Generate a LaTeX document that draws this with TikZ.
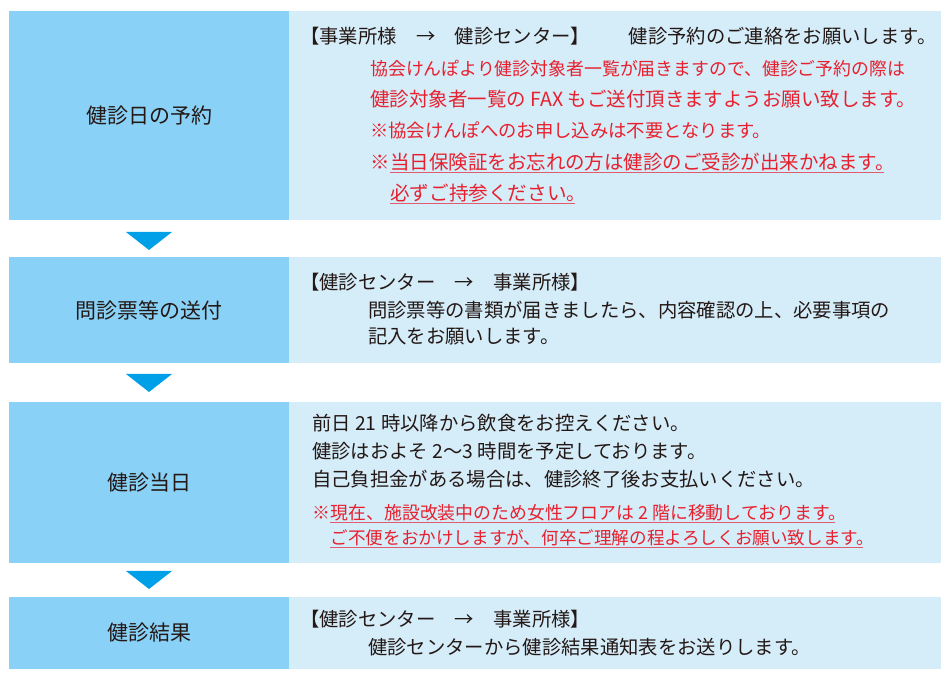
\documentclass[tikz,border=0pt]{standalone}
\usepackage{fontspec}
\newfontfamily\jpfont{Noto Sans CJK JP}
\usetikzlibrary{calc}
\definecolor{stepblue}{HTML}{89D1F6}
\definecolor{notebg}{HTML}{D5ECF9}
\definecolor{arrowblue}{HTML}{00A0E9}
\definecolor{notered}{HTML}{E8202E}
\definecolor{ulred}{HTML}{E05A70}
\definecolor{inkblack}{HTML}{231815}
\tikzstyle{stepleft}=[fill=stepblue,inner sep=0pt,outer sep=0pt,minimum width=210pt,font=\jpfont\fontsize{15.75}{18}\selectfont,text=inkblack]
\tikzstyle{stepright}=[fill=notebg,inner sep=0pt,outer sep=0pt,minimum width=489pt]
\tikzstyle{blacktxt}=[anchor=base west,inner sep=0pt,font=\jpfont\fontsize{14.5}{16}\selectfont,text=inkblack]
\tikzstyle{redtxt}[13.5]=[anchor=base west,inner sep=0pt,font=\jpfont\fontsize{#1}{16}\selectfont,text=notered]
\tikzstyle{underln}=[draw=ulred,line width=0.9pt,shorten >=8.3pt]
\tikzstyle{downarrow}=[fill=arrowblue]
\newcommand{\drawstep}[4]{

\pgfmathsetmacro{\boxh}{(#3-#2)*0.75}
\pgfmathsetmacro{\boxc}{(#2+#3)/2}
\node[stepleft,minimum height=\boxh pt] (#1L) at (149,\boxc) {#4};
\node[stepright,minimum height=\boxh pt] (#1R) at (615,\boxc) {};

}
\newcommand{\ulnote}[1]{
\draw[underln] ([yshift=-2pt]#1.base west) -- ([yshift=-2pt]#1.base east);
}

\begin{document}
\begin{tikzpicture}[x=0.75pt,y=-0.75pt]
	\useasboundingbox (0,0) rectangle (950,680);
	\drawstep{one}{11}{220}{健診日の予約}
	\drawstep{two}{257}{363}{問診票等の送付}
	\drawstep{three}{402}{563}{健診当日}
	\drawstep{four}{597}{669}{健診結果}
	% arrows between the steps
	\foreach \ty in {232,374,571} {
	  \fill[downarrow] (126,\ty) -- (172,\ty) -- (149,{\ty+18}) -- cycle;
	}
	% step 1
	\node[blacktxt] (r1head) at (300,44) {【事業所様　→　健診センター】　　健診予約のご連絡をお願いします。};
	\node[redtxt=13.4] (r1a) at (370,76) {協会けんぽより健診対象者一覧が届きますので、健診ご予約の際は};
	\node[redtxt=14.6] (r1b) at (370,107) {健診対象者一覧の FAX もご送付頂きますようお願い致します。};
	\node[redtxt=13.75] (r1c) at (370,138) {※協会けんぽへのお申し込みは不要となります。};
	\node[redtxt=14.6] (r1mark) at (370,170) {※};
	\node[redtxt=14.6] (r1d) at (r1mark.base east) {当日保険証をお忘れの方は健診のご受診が出来かねます。};
	\node[redtxt=14.7] (r1e) at ($(r1d.base west)+(0,31)$) {必ずご持参ください。};
	\ulnote{r1d}
	\ulnote{r1e}
	% step 2
	\node[blacktxt] (r2head) at (300,290) {【健診センター　→　事業所様】};
	\node[blacktxt] (r2a) at (368,318) {問診票等の書類が届きましたら、内容確認の上、必要事項の};
	\node[blacktxt] (r2b) at (368,344) {記入をお願いします。};
	% step 3
	\node[blacktxt] (r3a) at (312,431) {前日 21 時以降から飲食をお控えください。};
	\node[blacktxt] (r3b) at (312,459) {健診はおよそ 2～3 時間を予定しております。};
	\node[blacktxt] (r3c) at (312,487) {自己負担金がある場合は、健診終了後お支払いください。};
	\node[redtxt=13.4] (r3mark) at (312,520) {※};
	\node[redtxt=13.4] (r3d) at (r3mark.base east) {現在、施設改装中のため女性フロアは 2 階に移動しております。};
	\node[redtxt=13.2] (r3e) at ($(r3d.base west)+(0,25)$) {ご不便をおかけしますが、何卒ご理解の程よろしくお願い致します。};
	\ulnote{r3d}
	\ulnote{r3e}
	% step 4
	\node[blacktxt] (r4head) at (300,627) {【健診センター　→　事業所様】};
	\node[blacktxt] (r4a) at (368,654) {健診センターから健診結果通知表をお送りします。};
\end{tikzpicture}
\end{document}
